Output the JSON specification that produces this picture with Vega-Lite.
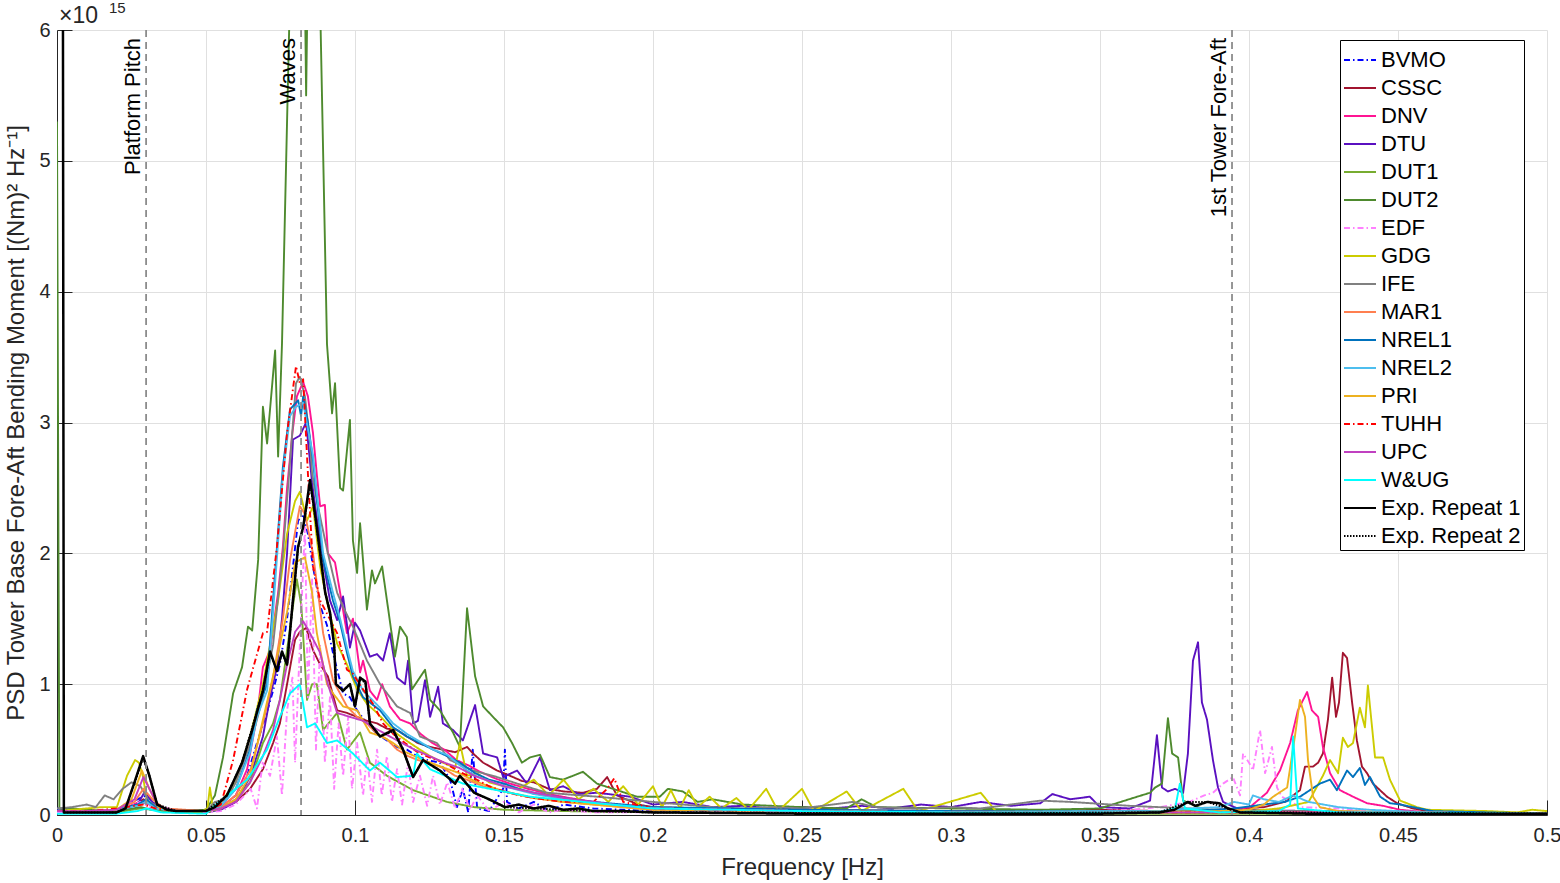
{
"$schema":"https://vega.github.io/schema/vega-lite/v6.json",
"width":1490,"height":785,
"autosize":{"type":"none"},
"padding":{"left":57,"top":30,"right":13,"bottom":68},
"background":"white",
"config":{"font":"Liberation Sans","view":{"stroke":null},
 "axis":{"labelFontSize":20,"titleFontSize":24,"titleFontWeight":"normal","labelColor":"#262626","titleColor":"#262626","domainColor":"#262626","tickColor":"#262626","gridColor":"#e0e0e0","tickSize":-15,"domainWidth":1,"tickWidth":1}},
"data":{"values":[
{"s":"BVMO","f":0,"y":0.05},{"s":"BVMO","f":0.01,"y":0.03},{"s":"BVMO","f":0.02,"y":0.04},{"s":"BVMO","f":0.027,"y":0.12},{"s":"BVMO","f":0.03,"y":0.15},{"s":"BVMO","f":0.034,"y":0.06},{"s":"BVMO","f":0.04,"y":0.03},{"s":"BVMO","f":0.05,"y":0.02},{"s":"BVMO","f":0.055,"y":0.06},{"s":"BVMO","f":0.06,"y":0.15},{"s":"BVMO","f":0.0638,"y":0.3},{"s":"BVMO","f":0.0671,"y":0.55},{"s":"BVMO","f":0.07,"y":0.75},{"s":"BVMO","f":0.0725,"y":0.95},{"s":"BVMO","f":0.0748,"y":1.15},{"s":"BVMO","f":0.0772,"y":1.5},{"s":"BVMO","f":0.0792,"y":1.9},{"s":"BVMO","f":0.0809,"y":2.25},{"s":"BVMO","f":0.0826,"y":2.3},{"s":"BVMO","f":0.0842,"y":2.15},{"s":"BVMO","f":0.0859,"y":1.9},{"s":"BVMO","f":0.0883,"y":1.6},{"s":"BVMO","f":0.0906,"y":1.45},{"s":"BVMO","f":0.0926,"y":1.24},{"s":"BVMO","f":0.096,"y":0.93},{"s":"BVMO","f":0.0983,"y":0.9},{"s":"BVMO","f":0.1007,"y":0.8},{"s":"BVMO","f":0.104,"y":0.7},{"s":"BVMO","f":0.1074,"y":0.62},{"s":"BVMO","f":0.1107,"y":0.57},{"s":"BVMO","f":0.1141,"y":0.52},{"s":"BVMO","f":0.1174,"y":0.5},{"s":"BVMO","f":0.1208,"y":0.45},{"s":"BVMO","f":0.1242,"y":0.42},{"s":"BVMO","f":0.1285,"y":0.4},{"s":"BVMO","f":0.1319,"y":0.27},{"s":"BVMO","f":0.1342,"y":0.06},{"s":"BVMO","f":0.1362,"y":0.2},{"s":"BVMO","f":0.138,"y":0.02},{"s":"BVMO","f":0.1395,"y":0.5},{"s":"BVMO","f":0.141,"y":0.05},{"s":"BVMO","f":0.145,"y":0.03},{"s":"BVMO","f":0.1497,"y":0.2},{"s":"BVMO","f":0.1503,"y":0.5},{"s":"BVMO","f":0.151,"y":0.1},{"s":"BVMO","f":0.155,"y":0.05},{"s":"BVMO","f":0.16,"y":0.1},{"s":"BVMO","f":0.165,"y":0.03},{"s":"BVMO","f":0.17,"y":0.08},{"s":"BVMO","f":0.18,"y":0.05},{"s":"BVMO","f":0.19,"y":0.04},{"s":"BVMO","f":0.2,"y":0.03},{"s":"BVMO","f":0.25,"y":0.02},{"s":"BVMO","f":0.3,"y":0.02},{"s":"BVMO","f":0.35,"y":0.02},{"s":"BVMO","f":0.4,"y":0.02},{"s":"BVMO","f":0.45,"y":0.02},{"s":"BVMO","f":0.5,"y":0.01},
{"s":"CSSC","f":0,"y":0.03},{"s":"CSSC","f":0.01,"y":0.02},{"s":"CSSC","f":0.02,"y":0.03},{"s":"CSSC","f":0.026,"y":0.08},{"s":"CSSC","f":0.029,"y":0.12},{"s":"CSSC","f":0.033,"y":0.05},{"s":"CSSC","f":0.04,"y":0.02},{"s":"CSSC","f":0.05,"y":0.02},{"s":"CSSC","f":0.055,"y":0.05},{"s":"CSSC","f":0.06,"y":0.1},{"s":"CSSC","f":0.0648,"y":0.2},{"s":"CSSC","f":0.0691,"y":0.35},{"s":"CSSC","f":0.0725,"y":0.55},{"s":"CSSC","f":0.0748,"y":0.7},{"s":"CSSC","f":0.0772,"y":1.0},{"s":"CSSC","f":0.0799,"y":1.34},{"s":"CSSC","f":0.0815,"y":1.4},{"s":"CSSC","f":0.0836,"y":1.43},{"s":"CSSC","f":0.0859,"y":1.26},{"s":"CSSC","f":0.0883,"y":1.15},{"s":"CSSC","f":0.0909,"y":1.06},{"s":"CSSC","f":0.094,"y":0.8},{"s":"CSSC","f":0.0973,"y":0.78},{"s":"CSSC","f":0.1007,"y":0.75},{"s":"CSSC","f":0.104,"y":0.72},{"s":"CSSC","f":0.1074,"y":0.7},{"s":"CSSC","f":0.1107,"y":0.66},{"s":"CSSC","f":0.1141,"y":0.65},{"s":"CSSC","f":0.1174,"y":0.6},{"s":"CSSC","f":0.1211,"y":0.55},{"s":"CSSC","f":0.1252,"y":0.52},{"s":"CSSC","f":0.1295,"y":0.5},{"s":"CSSC","f":0.1336,"y":0.48},{"s":"CSSC","f":0.1376,"y":0.52},{"s":"CSSC","f":0.1396,"y":0.47},{"s":"CSSC","f":0.143,"y":0.4},{"s":"CSSC","f":0.1477,"y":0.34},{"s":"CSSC","f":0.152,"y":0.3},{"s":"CSSC","f":0.156,"y":0.26},{"s":"CSSC","f":0.16,"y":0.25},{"s":"CSSC","f":0.165,"y":0.2},{"s":"CSSC","f":0.17,"y":0.18},{"s":"CSSC","f":0.1765,"y":0.17},{"s":"CSSC","f":0.1812,"y":0.2},{"s":"CSSC","f":0.1846,"y":0.29},{"s":"CSSC","f":0.1879,"y":0.15},{"s":"CSSC","f":0.195,"y":0.08},{"s":"CSSC","f":0.2,"y":0.06},{"s":"CSSC","f":0.22,"y":0.05},{"s":"CSSC","f":0.25,"y":0.04},{"s":"CSSC","f":0.3,"y":0.03},{"s":"CSSC","f":0.33,"y":0.03},{"s":"CSSC","f":0.35,"y":0.04},{"s":"CSSC","f":0.37,"y":0.03},{"s":"CSSC","f":0.39,"y":0.04},{"s":"CSSC","f":0.405,"y":0.06},{"s":"CSSC","f":0.412,"y":0.1},{"s":"CSSC","f":0.4171,"y":0.19},{"s":"CSSC","f":0.4188,"y":0.37},{"s":"CSSC","f":0.4215,"y":0.37},{"s":"CSSC","f":0.4232,"y":0.4},{"s":"CSSC","f":0.4248,"y":0.47},{"s":"CSSC","f":0.4265,"y":0.73},{"s":"CSSC","f":0.4279,"y":1.05},{"s":"CSSC","f":0.4292,"y":0.75},{"s":"CSSC","f":0.4302,"y":0.86},{"s":"CSSC","f":0.4315,"y":1.24},{"s":"CSSC","f":0.4329,"y":1.2},{"s":"CSSC","f":0.4346,"y":0.86},{"s":"CSSC","f":0.4362,"y":0.57},{"s":"CSSC","f":0.4379,"y":0.37},{"s":"CSSC","f":0.4396,"y":0.32},{"s":"CSSC","f":0.4416,"y":0.24},{"s":"CSSC","f":0.4463,"y":0.14},{"s":"CSSC","f":0.4497,"y":0.09},{"s":"CSSC","f":0.455,"y":0.05},{"s":"CSSC","f":0.46,"y":0.03},{"s":"CSSC","f":0.48,"y":0.02},{"s":"CSSC","f":0.5,"y":0.01},
{"s":"DNV","f":0,"y":0.03},{"s":"DNV","f":0.01,"y":0.02},{"s":"DNV","f":0.02,"y":0.03},{"s":"DNV","f":0.028,"y":0.1},{"s":"DNV","f":0.031,"y":0.08},{"s":"DNV","f":0.036,"y":0.03},{"s":"DNV","f":0.05,"y":0.02},{"s":"DNV","f":0.055,"y":0.06},{"s":"DNV","f":0.06,"y":0.15},{"s":"DNV","f":0.0638,"y":0.35},{"s":"DNV","f":0.0671,"y":0.75},{"s":"DNV","f":0.0691,"y":1.13},{"s":"DNV","f":0.0715,"y":1.26},{"s":"DNV","f":0.0742,"y":1.7},{"s":"DNV","f":0.0758,"y":2.05},{"s":"DNV","f":0.0772,"y":2.5},{"s":"DNV","f":0.079,"y":2.92},{"s":"DNV","f":0.0805,"y":3.2},{"s":"DNV","f":0.0826,"y":3.31},{"s":"DNV","f":0.0842,"y":3.2},{"s":"DNV","f":0.0859,"y":2.92},{"s":"DNV","f":0.0872,"y":2.6},{"s":"DNV","f":0.0883,"y":2.36},{"s":"DNV","f":0.0899,"y":2.37},{"s":"DNV","f":0.0909,"y":2.0},{"s":"DNV","f":0.0933,"y":1.93},{"s":"DNV","f":0.095,"y":1.7},{"s":"DNV","f":0.0973,"y":1.39},{"s":"DNV","f":0.0993,"y":1.5},{"s":"DNV","f":0.1017,"y":1.09},{"s":"DNV","f":0.1027,"y":1.18},{"s":"DNV","f":0.105,"y":0.95},{"s":"DNV","f":0.1074,"y":0.88},{"s":"DNV","f":0.1091,"y":1.0},{"s":"DNV","f":0.1117,"y":0.83},{"s":"DNV","f":0.1151,"y":0.73},{"s":"DNV","f":0.1185,"y":0.7},{"s":"DNV","f":0.122,"y":0.62},{"s":"DNV","f":0.126,"y":0.55},{"s":"DNV","f":0.13,"y":0.5},{"s":"DNV","f":0.134,"y":0.42},{"s":"DNV","f":0.138,"y":0.38},{"s":"DNV","f":0.142,"y":0.33},{"s":"DNV","f":0.147,"y":0.28},{"s":"DNV","f":0.152,"y":0.24},{"s":"DNV","f":0.158,"y":0.2},{"s":"DNV","f":0.165,"y":0.16},{"s":"DNV","f":0.172,"y":0.13},{"s":"DNV","f":0.18,"y":0.1},{"s":"DNV","f":0.19,"y":0.07},{"s":"DNV","f":0.2,"y":0.05},{"s":"DNV","f":0.25,"y":0.03},{"s":"DNV","f":0.3,"y":0.02},{"s":"DNV","f":0.35,"y":0.02},{"s":"DNV","f":0.39,"y":0.03},{"s":"DNV","f":0.4003,"y":0.06},{"s":"DNV","f":0.406,"y":0.17},{"s":"DNV","f":0.4104,"y":0.34},{"s":"DNV","f":0.4138,"y":0.55},{"s":"DNV","f":0.4164,"y":0.8},{"s":"DNV","f":0.4195,"y":0.94},{"s":"DNV","f":0.4211,"y":0.8},{"s":"DNV","f":0.4232,"y":0.75},{"s":"DNV","f":0.4248,"y":0.52},{"s":"DNV","f":0.4272,"y":0.32},{"s":"DNV","f":0.4305,"y":0.19},{"s":"DNV","f":0.4349,"y":0.14},{"s":"DNV","f":0.4396,"y":0.09},{"s":"DNV","f":0.445,"y":0.07},{"s":"DNV","f":0.4507,"y":0.04},{"s":"DNV","f":0.46,"y":0.02},{"s":"DNV","f":0.5,"y":0.01},
{"s":"DTU","f":0,"y":0.03},{"s":"DTU","f":0.01,"y":0.02},{"s":"DTU","f":0.02,"y":0.03},{"s":"DTU","f":0.027,"y":0.08},{"s":"DTU","f":0.0295,"y":0.18},{"s":"DTU","f":0.032,"y":0.1},{"s":"DTU","f":0.036,"y":0.03},{"s":"DTU","f":0.05,"y":0.02},{"s":"DTU","f":0.055,"y":0.04},{"s":"DTU","f":0.06,"y":0.1},{"s":"DTU","f":0.065,"y":0.3},{"s":"DTU","f":0.0691,"y":0.6},{"s":"DTU","f":0.0715,"y":0.9},{"s":"DTU","f":0.0738,"y":1.13},{"s":"DTU","f":0.0755,"y":1.5},{"s":"DTU","f":0.0772,"y":2.0},{"s":"DTU","f":0.0792,"y":2.87},{"s":"DTU","f":0.0815,"y":2.9},{"s":"DTU","f":0.0836,"y":3.0},{"s":"DTU","f":0.0856,"y":2.54},{"s":"DTU","f":0.0883,"y":2.08},{"s":"DTU","f":0.0916,"y":1.64},{"s":"DTU","f":0.094,"y":1.49},{"s":"DTU","f":0.096,"y":1.67},{"s":"DTU","f":0.0977,"y":1.39},{"s":"DTU","f":0.0983,"y":1.28},{"s":"DTU","f":0.1,"y":1.47},{"s":"DTU","f":0.1017,"y":1.41},{"s":"DTU","f":0.105,"y":1.21},{"s":"DTU","f":0.1074,"y":1.23},{"s":"DTU","f":0.1094,"y":1.18},{"s":"DTU","f":0.1117,"y":1.39},{"s":"DTU","f":0.1141,"y":1.05},{"s":"DTU","f":0.1168,"y":1.0},{"s":"DTU","f":0.1178,"y":1.18},{"s":"DTU","f":0.1195,"y":0.7},{"s":"DTU","f":0.1211,"y":0.72},{"s":"DTU","f":0.1235,"y":1.03},{"s":"DTU","f":0.1252,"y":0.75},{"s":"DTU","f":0.1279,"y":0.98},{"s":"DTU","f":0.1295,"y":0.7},{"s":"DTU","f":0.1329,"y":0.65},{"s":"DTU","f":0.1362,"y":0.57},{"s":"DTU","f":0.1403,"y":0.84},{"s":"DTU","f":0.143,"y":0.47},{"s":"DTU","f":0.1477,"y":0.44},{"s":"DTU","f":0.1497,"y":0.29},{"s":"DTU","f":0.1544,"y":0.34},{"s":"DTU","f":0.1577,"y":0.24},{"s":"DTU","f":0.1621,"y":0.44},{"s":"DTU","f":0.1654,"y":0.19},{"s":"DTU","f":0.1698,"y":0.22},{"s":"DTU","f":0.175,"y":0.16},{"s":"DTU","f":0.1812,"y":0.17},{"s":"DTU","f":0.1923,"y":0.14},{"s":"DTU","f":0.2,"y":0.08},{"s":"DTU","f":0.21,"y":0.1},{"s":"DTU","f":0.22,"y":0.06},{"s":"DTU","f":0.23,"y":0.07},{"s":"DTU","f":0.24,"y":0.05},{"s":"DTU","f":0.25,"y":0.06},{"s":"DTU","f":0.26,"y":0.05},{"s":"DTU","f":0.27,"y":0.07},{"s":"DTU","f":0.28,"y":0.05},{"s":"DTU","f":0.29,"y":0.08},{"s":"DTU","f":0.3,"y":0.06},{"s":"DTU","f":0.31,"y":0.1},{"s":"DTU","f":0.32,"y":0.07},{"s":"DTU","f":0.33,"y":0.09},{"s":"DTU","f":0.334,"y":0.16},{"s":"DTU","f":0.34,"y":0.12},{"s":"DTU","f":0.3466,"y":0.14},{"s":"DTU","f":0.35,"y":0.06},{"s":"DTU","f":0.36,"y":0.05},{"s":"DTU","f":0.3668,"y":0.11},{"s":"DTU","f":0.3691,"y":0.61},{"s":"DTU","f":0.3708,"y":0.21},{"s":"DTU","f":0.3728,"y":0.18},{"s":"DTU","f":0.3752,"y":0.2},{"s":"DTU","f":0.3779,"y":0.17},{"s":"DTU","f":0.3795,"y":0.47},{"s":"DTU","f":0.3812,"y":1.18},{"s":"DTU","f":0.3829,"y":1.32},{"s":"DTU","f":0.3842,"y":0.86},{"s":"DTU","f":0.3859,"y":0.73},{"s":"DTU","f":0.3879,"y":0.42},{"s":"DTU","f":0.3896,"y":0.21},{"s":"DTU","f":0.3913,"y":0.1},{"s":"DTU","f":0.397,"y":0.04},{"s":"DTU","f":0.42,"y":0.03},{"s":"DTU","f":0.45,"y":0.02},{"s":"DTU","f":0.5,"y":0.01},
{"s":"DUT1","f":0,"y":0.02},{"s":"DUT1","f":0.01,"y":0.02},{"s":"DUT1","f":0.02,"y":0.02},{"s":"DUT1","f":0.028,"y":0.05},{"s":"DUT1","f":0.032,"y":0.04},{"s":"DUT1","f":0.04,"y":0.02},{"s":"DUT1","f":0.05,"y":0.02},{"s":"DUT1","f":0.055,"y":0.05},{"s":"DUT1","f":0.06,"y":0.12},{"s":"DUT1","f":0.0648,"y":0.25},{"s":"DUT1","f":0.0691,"y":0.55},{"s":"DUT1","f":0.0725,"y":0.7},{"s":"DUT1","f":0.0748,"y":0.88},{"s":"DUT1","f":0.0772,"y":1.26},{"s":"DUT1","f":0.0792,"y":1.6},{"s":"DUT1","f":0.0805,"y":1.8},{"s":"DUT1","f":0.082,"y":1.6},{"s":"DUT1","f":0.0839,"y":0.88},{"s":"DUT1","f":0.0856,"y":1.0},{"s":"DUT1","f":0.0872,"y":1.0},{"s":"DUT1","f":0.0893,"y":0.65},{"s":"DUT1","f":0.094,"y":0.78},{"s":"DUT1","f":0.0973,"y":0.5},{"s":"DUT1","f":0.1017,"y":0.63},{"s":"DUT1","f":0.105,"y":0.4},{"s":"DUT1","f":0.1107,"y":0.3},{"s":"DUT1","f":0.1195,"y":0.19},{"s":"DUT1","f":0.1309,"y":0.1},{"s":"DUT1","f":0.14,"y":0.06},{"s":"DUT1","f":0.15,"y":0.04},{"s":"DUT1","f":0.17,"y":0.03},{"s":"DUT1","f":0.2,"y":0.02},{"s":"DUT1","f":0.25,"y":0.015},{"s":"DUT1","f":0.3,"y":0.01},{"s":"DUT1","f":0.4,"y":0.01},{"s":"DUT1","f":0.5,"y":0.01},
{"s":"DUT2","f":0,"y":5.3},{"s":"DUT2","f":0.0008,"y":0.05},{"s":"DUT2","f":0.005,"y":0.05},{"s":"DUT2","f":0.01,"y":0.04},{"s":"DUT2","f":0.02,"y":0.03},{"s":"DUT2","f":0.028,"y":0.06},{"s":"DUT2","f":0.032,"y":0.04},{"s":"DUT2","f":0.04,"y":0.03},{"s":"DUT2","f":0.05,"y":0.04},{"s":"DUT2","f":0.053,"y":0.15},{"s":"DUT2","f":0.0557,"y":0.44},{"s":"DUT2","f":0.0591,"y":0.93},{"s":"DUT2","f":0.0621,"y":1.13},{"s":"DUT2","f":0.0641,"y":1.44},{"s":"DUT2","f":0.0655,"y":1.41},{"s":"DUT2","f":0.0675,"y":1.95},{"s":"DUT2","f":0.0691,"y":3.12},{"s":"DUT2","f":0.0705,"y":2.84},{"s":"DUT2","f":0.0732,"y":3.55},{"s":"DUT2","f":0.0742,"y":2.74},{"s":"DUT2","f":0.0755,"y":3.6},{"s":"DUT2","f":0.0782,"y":6.3},{"s":"DUT2","f":0.08,"y":7.5},{"s":"DUT2","f":0.0832,"y":6.3},{"s":"DUT2","f":0.0836,"y":5.5},{"s":"DUT2","f":0.0842,"y":6.5},{"s":"DUT2","f":0.086,"y":7.0},{"s":"DUT2","f":0.0883,"y":6.2},{"s":"DUT2","f":0.0906,"y":3.6},{"s":"DUT2","f":0.0923,"y":3.07},{"s":"DUT2","f":0.0933,"y":3.3},{"s":"DUT2","f":0.095,"y":2.5},{"s":"DUT2","f":0.096,"y":2.48},{"s":"DUT2","f":0.0983,"y":3.02},{"s":"DUT2","f":0.0993,"y":2.1},{"s":"DUT2","f":0.1007,"y":1.85},{"s":"DUT2","f":0.1017,"y":2.23},{"s":"DUT2","f":0.104,"y":1.57},{"s":"DUT2","f":0.1057,"y":1.87},{"s":"DUT2","f":0.1067,"y":1.77},{"s":"DUT2","f":0.1091,"y":1.9},{"s":"DUT2","f":0.1134,"y":1.21},{"s":"DUT2","f":0.1151,"y":1.44},{"s":"DUT2","f":0.1174,"y":1.36},{"s":"DUT2","f":0.1191,"y":0.96},{"s":"DUT2","f":0.1235,"y":1.11},{"s":"DUT2","f":0.1252,"y":0.88},{"s":"DUT2","f":0.1285,"y":0.8},{"s":"DUT2","f":0.1329,"y":0.63},{"s":"DUT2","f":0.1352,"y":0.52},{"s":"DUT2","f":0.1376,"y":1.58},{"s":"DUT2","f":0.1403,"y":1.06},{"s":"DUT2","f":0.143,"y":0.83},{"s":"DUT2","f":0.1463,"y":0.75},{"s":"DUT2","f":0.1497,"y":0.67},{"s":"DUT2","f":0.1527,"y":0.55},{"s":"DUT2","f":0.156,"y":0.4},{"s":"DUT2","f":0.1587,"y":0.44},{"s":"DUT2","f":0.1621,"y":0.46},{"s":"DUT2","f":0.1654,"y":0.29},{"s":"DUT2","f":0.1698,"y":0.27},{"s":"DUT2","f":0.1765,"y":0.33},{"s":"DUT2","f":0.1812,"y":0.24},{"s":"DUT2","f":0.1879,"y":0.19},{"s":"DUT2","f":0.1946,"y":0.14},{"s":"DUT2","f":0.2023,"y":0.14},{"s":"DUT2","f":0.205,"y":0.2},{"s":"DUT2","f":0.21,"y":0.18},{"s":"DUT2","f":0.215,"y":0.1},{"s":"DUT2","f":0.22,"y":0.12},{"s":"DUT2","f":0.23,"y":0.08},{"s":"DUT2","f":0.24,"y":0.07},{"s":"DUT2","f":0.25,"y":0.06},{"s":"DUT2","f":0.265,"y":0.05},{"s":"DUT2","f":0.27,"y":0.12},{"s":"DUT2","f":0.275,"y":0.06},{"s":"DUT2","f":0.3,"y":0.05},{"s":"DUT2","f":0.33,"y":0.04},{"s":"DUT2","f":0.35,"y":0.05},{"s":"DUT2","f":0.3611,"y":0.13},{"s":"DUT2","f":0.3668,"y":0.17},{"s":"DUT2","f":0.3685,"y":0.21},{"s":"DUT2","f":0.3708,"y":0.24},{"s":"DUT2","f":0.3728,"y":0.74},{"s":"DUT2","f":0.3742,"y":0.47},{"s":"DUT2","f":0.3762,"y":0.44},{"s":"DUT2","f":0.3779,"y":0.11},{"s":"DUT2","f":0.385,"y":0.04},{"s":"DUT2","f":0.4,"y":0.03},{"s":"DUT2","f":0.45,"y":0.02},{"s":"DUT2","f":0.5,"y":0.01},
{"s":"EDF","f":0,"y":0.02},{"s":"EDF","f":0.01,"y":0.03},{"s":"EDF","f":0.02,"y":0.04},{"s":"EDF","f":0.028,"y":0.1},{"s":"EDF","f":0.031,"y":0.06},{"s":"EDF","f":0.04,"y":0.03},{"s":"EDF","f":0.05,"y":0.02},{"s":"EDF","f":0.055,"y":0.03},{"s":"EDF","f":0.06,"y":0.08},{"s":"EDF","f":0.065,"y":0.2},{"s":"EDF","f":0.0671,"y":0.05},{"s":"EDF","f":0.069,"y":0.4},{"s":"EDF","f":0.0715,"y":0.3},{"s":"EDF","f":0.0738,"y":0.6},{"s":"EDF","f":0.0755,"y":0.15},{"s":"EDF","f":0.0772,"y":0.8},{"s":"EDF","f":0.079,"y":1.05},{"s":"EDF","f":0.0799,"y":0.4},{"s":"EDF","f":0.0815,"y":1.3},{"s":"EDF","f":0.0832,"y":2.2},{"s":"EDF","f":0.0842,"y":0.9},{"s":"EDF","f":0.0856,"y":1.8},{"s":"EDF","f":0.0869,"y":0.5},{"s":"EDF","f":0.0883,"y":1.3},{"s":"EDF","f":0.0899,"y":0.4},{"s":"EDF","f":0.0916,"y":0.9},{"s":"EDF","f":0.093,"y":0.2},{"s":"EDF","f":0.0945,"y":0.7},{"s":"EDF","f":0.096,"y":0.3},{"s":"EDF","f":0.0977,"y":0.75},{"s":"EDF","f":0.099,"y":0.2},{"s":"EDF","f":0.1007,"y":0.55},{"s":"EDF","f":0.1027,"y":0.15},{"s":"EDF","f":0.104,"y":0.45},{"s":"EDF","f":0.1057,"y":0.1},{"s":"EDF","f":0.1074,"y":0.5},{"s":"EDF","f":0.109,"y":0.15},{"s":"EDF","f":0.1107,"y":0.45},{"s":"EDF","f":0.1124,"y":0.1},{"s":"EDF","f":0.1141,"y":0.35},{"s":"EDF","f":0.1158,"y":0.08},{"s":"EDF","f":0.1178,"y":0.4},{"s":"EDF","f":0.1195,"y":0.1},{"s":"EDF","f":0.1218,"y":0.3},{"s":"EDF","f":0.1242,"y":0.07},{"s":"EDF","f":0.1262,"y":0.3},{"s":"EDF","f":0.1285,"y":0.08},{"s":"EDF","f":0.131,"y":0.25},{"s":"EDF","f":0.1336,"y":0.05},{"s":"EDF","f":0.136,"y":0.2},{"s":"EDF","f":0.1386,"y":0.04},{"s":"EDF","f":0.141,"y":0.15},{"s":"EDF","f":0.145,"y":0.03},{"s":"EDF","f":0.15,"y":0.1},{"s":"EDF","f":0.155,"y":0.02},{"s":"EDF","f":0.16,"y":0.08},{"s":"EDF","f":0.165,"y":0.02},{"s":"EDF","f":0.17,"y":0.04},{"s":"EDF","f":0.18,"y":0.02},{"s":"EDF","f":0.2,"y":0.02},{"s":"EDF","f":0.25,"y":0.02},{"s":"EDF","f":0.3,"y":0.02},{"s":"EDF","f":0.35,"y":0.03},{"s":"EDF","f":0.36,"y":0.04},{"s":"EDF","f":0.37,"y":0.06},{"s":"EDF","f":0.38,"y":0.1},{"s":"EDF","f":0.385,"y":0.15},{"s":"EDF","f":0.3879,"y":0.17},{"s":"EDF","f":0.3913,"y":0.24},{"s":"EDF","f":0.3946,"y":0.29},{"s":"EDF","f":0.397,"y":0.15},{"s":"EDF","f":0.398,"y":0.47},{"s":"EDF","f":0.4,"y":0.4},{"s":"EDF","f":0.4013,"y":0.34},{"s":"EDF","f":0.4037,"y":0.65},{"s":"EDF","f":0.4054,"y":0.32},{"s":"EDF","f":0.4077,"y":0.52},{"s":"EDF","f":0.4094,"y":0.21},{"s":"EDF","f":0.411,"y":0.14},{"s":"EDF","f":0.4171,"y":0.06},{"s":"EDF","f":0.43,"y":0.05},{"s":"EDF","f":0.44,"y":0.03},{"s":"EDF","f":0.46,"y":0.02},{"s":"EDF","f":0.5,"y":0.01},
{"s":"GDG","f":0,"y":0.03},{"s":"GDG","f":0.005,"y":0.04},{"s":"GDG","f":0.01,"y":0.05},{"s":"GDG","f":0.015,"y":0.06},{"s":"GDG","f":0.0201,"y":0.06},{"s":"GDG","f":0.0235,"y":0.3},{"s":"GDG","f":0.0262,"y":0.42},{"s":"GDG","f":0.0275,"y":0.4},{"s":"GDG","f":0.0289,"y":0.29},{"s":"GDG","f":0.0302,"y":0.1},{"s":"GDG","f":0.034,"y":0.05},{"s":"GDG","f":0.04,"y":0.03},{"s":"GDG","f":0.048,"y":0.02},{"s":"GDG","f":0.0505,"y":0.05},{"s":"GDG","f":0.0513,"y":0.21},{"s":"GDG","f":0.0523,"y":0.05},{"s":"GDG","f":0.055,"y":0.1},{"s":"GDG","f":0.06,"y":0.25},{"s":"GDG","f":0.0648,"y":0.6},{"s":"GDG","f":0.0691,"y":1.0},{"s":"GDG","f":0.0715,"y":1.3},{"s":"GDG","f":0.0742,"y":1.64},{"s":"GDG","f":0.0772,"y":2.15},{"s":"GDG","f":0.0799,"y":2.4},{"s":"GDG","f":0.0815,"y":2.47},{"s":"GDG","f":0.0839,"y":2.25},{"s":"GDG","f":0.0859,"y":2.36},{"s":"GDG","f":0.0883,"y":1.9},{"s":"GDG","f":0.0909,"y":1.6},{"s":"GDG","f":0.094,"y":1.31},{"s":"GDG","f":0.0973,"y":1.15},{"s":"GDG","f":0.1007,"y":0.96},{"s":"GDG","f":0.104,"y":0.85},{"s":"GDG","f":0.1074,"y":0.78},{"s":"GDG","f":0.1107,"y":0.7},{"s":"GDG","f":0.1141,"y":0.62},{"s":"GDG","f":0.1178,"y":0.56},{"s":"GDG","f":0.1218,"y":0.5},{"s":"GDG","f":0.1252,"y":0.45},{"s":"GDG","f":0.1295,"y":0.4},{"s":"GDG","f":0.1336,"y":0.36},{"s":"GDG","f":0.1352,"y":0.55},{"s":"GDG","f":0.1376,"y":0.3},{"s":"GDG","f":0.141,"y":0.32},{"s":"GDG","f":0.145,"y":0.25},{"s":"GDG","f":0.15,"y":0.22},{"s":"GDG","f":0.155,"y":0.2},{"s":"GDG","f":0.16,"y":0.27},{"s":"GDG","f":0.165,"y":0.15},{"s":"GDG","f":0.17,"y":0.27},{"s":"GDG","f":0.175,"y":0.12},{"s":"GDG","f":0.18,"y":0.2},{"s":"GDG","f":0.185,"y":0.1},{"s":"GDG","f":0.19,"y":0.22},{"s":"GDG","f":0.195,"y":0.08},{"s":"GDG","f":0.2,"y":0.22},{"s":"GDG","f":0.203,"y":0.06},{"s":"GDG","f":0.206,"y":0.19},{"s":"GDG","f":0.209,"y":0.05},{"s":"GDG","f":0.212,"y":0.19},{"s":"GDG","f":0.215,"y":0.06},{"s":"GDG","f":0.219,"y":0.14},{"s":"GDG","f":0.223,"y":0.05},{"s":"GDG","f":0.228,"y":0.13},{"s":"GDG","f":0.232,"y":0.04},{"s":"GDG","f":0.238,"y":0.2},{"s":"GDG","f":0.242,"y":0.03},{"s":"GDG","f":0.25,"y":0.2},{"s":"GDG","f":0.254,"y":0.03},{"s":"GDG","f":0.265,"y":0.18},{"s":"GDG","f":0.27,"y":0.03},{"s":"GDG","f":0.284,"y":0.2},{"s":"GDG","f":0.289,"y":0.03},{"s":"GDG","f":0.31,"y":0.17},{"s":"GDG","f":0.315,"y":0.03},{"s":"GDG","f":0.35,"y":0.03},{"s":"GDG","f":0.4,"y":0.03},{"s":"GDG","f":0.41,"y":0.05},{"s":"GDG","f":0.42,"y":0.1},{"s":"GDG","f":0.4248,"y":0.3},{"s":"GDG","f":0.4272,"y":0.42},{"s":"GDG","f":0.4299,"y":0.32},{"s":"GDG","f":0.4315,"y":0.59},{"s":"GDG","f":0.4332,"y":0.52},{"s":"GDG","f":0.4349,"y":0.55},{"s":"GDG","f":0.4372,"y":0.82},{"s":"GDG","f":0.4389,"y":0.67},{"s":"GDG","f":0.4399,"y":0.99},{"s":"GDG","f":0.4423,"y":0.44},{"s":"GDG","f":0.445,"y":0.44},{"s":"GDG","f":0.4473,"y":0.27},{"s":"GDG","f":0.4507,"y":0.11},{"s":"GDG","f":0.4564,"y":0.06},{"s":"GDG","f":0.46,"y":0.04},{"s":"GDG","f":0.48,"y":0.03},{"s":"GDG","f":0.49,"y":0.02},{"s":"GDG","f":0.495,"y":0.04},{"s":"GDG","f":0.5,"y":0.03},
{"s":"IFE","f":0,"y":0.05},{"s":"IFE","f":0.005,"y":0.06},{"s":"IFE","f":0.01,"y":0.08},{"s":"IFE","f":0.013,"y":0.06},{"s":"IFE","f":0.016,"y":0.15},{"s":"IFE","f":0.019,"y":0.12},{"s":"IFE","f":0.022,"y":0.2},{"s":"IFE","f":0.025,"y":0.25},{"s":"IFE","f":0.028,"y":0.22},{"s":"IFE","f":0.031,"y":0.1},{"s":"IFE","f":0.035,"y":0.05},{"s":"IFE","f":0.04,"y":0.04},{"s":"IFE","f":0.05,"y":0.03},{"s":"IFE","f":0.053,"y":0.1},{"s":"IFE","f":0.057,"y":0.12},{"s":"IFE","f":0.06,"y":0.25},{"s":"IFE","f":0.065,"y":0.55},{"s":"IFE","f":0.0691,"y":0.9},{"s":"IFE","f":0.0725,"y":1.3},{"s":"IFE","f":0.0758,"y":2.0},{"s":"IFE","f":0.0782,"y":2.7},{"s":"IFE","f":0.0802,"y":3.3},{"s":"IFE","f":0.0815,"y":3.35},{"s":"IFE","f":0.0832,"y":3.2},{"s":"IFE","f":0.0849,"y":2.85},{"s":"IFE","f":0.0856,"y":2.61},{"s":"IFE","f":0.0872,"y":2.4},{"s":"IFE","f":0.0906,"y":2.03},{"s":"IFE","f":0.094,"y":1.7},{"s":"IFE","f":0.096,"y":1.59},{"s":"IFE","f":0.0993,"y":1.44},{"s":"IFE","f":0.104,"y":1.18},{"s":"IFE","f":0.1084,"y":1.0},{"s":"IFE","f":0.1141,"y":0.83},{"s":"IFE","f":0.1185,"y":0.78},{"s":"IFE","f":0.1218,"y":0.6},{"s":"IFE","f":0.1275,"y":0.55},{"s":"IFE","f":0.1319,"y":0.42},{"s":"IFE","f":0.1396,"y":0.34},{"s":"IFE","f":0.1477,"y":0.29},{"s":"IFE","f":0.1544,"y":0.24},{"s":"IFE","f":0.1644,"y":0.17},{"s":"IFE","f":0.1812,"y":0.14},{"s":"IFE","f":0.2,"y":0.1},{"s":"IFE","f":0.21,"y":0.08},{"s":"IFE","f":0.22,"y":0.06},{"s":"IFE","f":0.23,"y":0.05},{"s":"IFE","f":0.24,"y":0.06},{"s":"IFE","f":0.25,"y":0.05},{"s":"IFE","f":0.267,"y":0.1},{"s":"IFE","f":0.275,"y":0.06},{"s":"IFE","f":0.29,"y":0.05},{"s":"IFE","f":0.3,"y":0.06},{"s":"IFE","f":0.31,"y":0.05},{"s":"IFE","f":0.33,"y":0.11},{"s":"IFE","f":0.34,"y":0.1},{"s":"IFE","f":0.347,"y":0.09},{"s":"IFE","f":0.36,"y":0.07},{"s":"IFE","f":0.37,"y":0.06},{"s":"IFE","f":0.38,"y":0.05},{"s":"IFE","f":0.39,"y":0.04},{"s":"IFE","f":0.4,"y":0.03},{"s":"IFE","f":0.42,"y":0.03},{"s":"IFE","f":0.45,"y":0.02},{"s":"IFE","f":0.5,"y":0.01},
{"s":"MAR1","f":0,"y":0.03},{"s":"MAR1","f":0.01,"y":0.03},{"s":"MAR1","f":0.02,"y":0.04},{"s":"MAR1","f":0.026,"y":0.1},{"s":"MAR1","f":0.029,"y":0.2},{"s":"MAR1","f":0.032,"y":0.12},{"s":"MAR1","f":0.036,"y":0.05},{"s":"MAR1","f":0.05,"y":0.03},{"s":"MAR1","f":0.055,"y":0.06},{"s":"MAR1","f":0.06,"y":0.15},{"s":"MAR1","f":0.065,"y":0.35},{"s":"MAR1","f":0.0691,"y":0.7},{"s":"MAR1","f":0.0725,"y":1.05},{"s":"MAR1","f":0.0758,"y":1.5},{"s":"MAR1","f":0.0782,"y":1.95},{"s":"MAR1","f":0.0802,"y":2.2},{"s":"MAR1","f":0.0815,"y":2.36},{"s":"MAR1","f":0.0832,"y":2.3},{"s":"MAR1","f":0.0859,"y":2.0},{"s":"MAR1","f":0.0876,"y":1.7},{"s":"MAR1","f":0.0893,"y":1.39},{"s":"MAR1","f":0.0926,"y":1.03},{"s":"MAR1","f":0.0973,"y":0.83},{"s":"MAR1","f":0.1007,"y":0.75},{"s":"MAR1","f":0.104,"y":0.7},{"s":"MAR1","f":0.1074,"y":0.62},{"s":"MAR1","f":0.1107,"y":0.58},{"s":"MAR1","f":0.1141,"y":0.5},{"s":"MAR1","f":0.1178,"y":0.45},{"s":"MAR1","f":0.1211,"y":0.42},{"s":"MAR1","f":0.1252,"y":0.4},{"s":"MAR1","f":0.1295,"y":0.36},{"s":"MAR1","f":0.1336,"y":0.3},{"s":"MAR1","f":0.1376,"y":0.27},{"s":"MAR1","f":0.143,"y":0.22},{"s":"MAR1","f":0.15,"y":0.18},{"s":"MAR1","f":0.16,"y":0.13},{"s":"MAR1","f":0.17,"y":0.1},{"s":"MAR1","f":0.18,"y":0.08},{"s":"MAR1","f":0.19,"y":0.06},{"s":"MAR1","f":0.2,"y":0.04},{"s":"MAR1","f":0.25,"y":0.03},{"s":"MAR1","f":0.3,"y":0.02},{"s":"MAR1","f":0.35,"y":0.02},{"s":"MAR1","f":0.4,"y":0.02},{"s":"MAR1","f":0.45,"y":0.02},{"s":"MAR1","f":0.5,"y":0.01},
{"s":"NREL1","f":0,"y":0.03},{"s":"NREL1","f":0.01,"y":0.03},{"s":"NREL1","f":0.02,"y":0.04},{"s":"NREL1","f":0.027,"y":0.08},{"s":"NREL1","f":0.03,"y":0.12},{"s":"NREL1","f":0.033,"y":0.06},{"s":"NREL1","f":0.04,"y":0.03},{"s":"NREL1","f":0.05,"y":0.03},{"s":"NREL1","f":0.055,"y":0.07},{"s":"NREL1","f":0.06,"y":0.2},{"s":"NREL1","f":0.0648,"y":0.5},{"s":"NREL1","f":0.0671,"y":0.8},{"s":"NREL1","f":0.0705,"y":1.0},{"s":"NREL1","f":0.0725,"y":1.64},{"s":"NREL1","f":0.0758,"y":2.66},{"s":"NREL1","f":0.0782,"y":3.1},{"s":"NREL1","f":0.0809,"y":3.17},{"s":"NREL1","f":0.0819,"y":3.05},{"s":"NREL1","f":0.0826,"y":3.2},{"s":"NREL1","f":0.0842,"y":3.0},{"s":"NREL1","f":0.0859,"y":2.71},{"s":"NREL1","f":0.0893,"y":1.95},{"s":"NREL1","f":0.0926,"y":1.64},{"s":"NREL1","f":0.095,"y":1.47},{"s":"NREL1","f":0.0973,"y":1.24},{"s":"NREL1","f":0.0993,"y":1.06},{"s":"NREL1","f":0.1027,"y":0.9},{"s":"NREL1","f":0.1084,"y":0.8},{"s":"NREL1","f":0.1128,"y":0.67},{"s":"NREL1","f":0.1174,"y":0.6},{"s":"NREL1","f":0.1218,"y":0.55},{"s":"NREL1","f":0.1262,"y":0.5},{"s":"NREL1","f":0.1309,"y":0.45},{"s":"NREL1","f":0.1352,"y":0.4},{"s":"NREL1","f":0.1403,"y":0.32},{"s":"NREL1","f":0.145,"y":0.27},{"s":"NREL1","f":0.15,"y":0.24},{"s":"NREL1","f":0.155,"y":0.2},{"s":"NREL1","f":0.16,"y":0.17},{"s":"NREL1","f":0.17,"y":0.13},{"s":"NREL1","f":0.18,"y":0.1},{"s":"NREL1","f":0.19,"y":0.08},{"s":"NREL1","f":0.2,"y":0.06},{"s":"NREL1","f":0.25,"y":0.04},{"s":"NREL1","f":0.3,"y":0.03},{"s":"NREL1","f":0.35,"y":0.03},{"s":"NREL1","f":0.38,"y":0.03},{"s":"NREL1","f":0.395,"y":0.05},{"s":"NREL1","f":0.405,"y":0.08},{"s":"NREL1","f":0.412,"y":0.1},{"s":"NREL1","f":0.4171,"y":0.14},{"s":"NREL1","f":0.4238,"y":0.24},{"s":"NREL1","f":0.4272,"y":0.27},{"s":"NREL1","f":0.4295,"y":0.19},{"s":"NREL1","f":0.4329,"y":0.34},{"s":"NREL1","f":0.4349,"y":0.29},{"s":"NREL1","f":0.4372,"y":0.36},{"s":"NREL1","f":0.4389,"y":0.23},{"s":"NREL1","f":0.4406,"y":0.29},{"s":"NREL1","f":0.444,"y":0.14},{"s":"NREL1","f":0.4473,"y":0.09},{"s":"NREL1","f":0.4507,"y":0.08},{"s":"NREL1","f":0.4617,"y":0.03},{"s":"NREL1","f":0.48,"y":0.02},{"s":"NREL1","f":0.5,"y":0.01},
{"s":"NREL2","f":0,"y":0.03},{"s":"NREL2","f":0.01,"y":0.03},{"s":"NREL2","f":0.02,"y":0.04},{"s":"NREL2","f":0.027,"y":0.07},{"s":"NREL2","f":0.03,"y":0.1},{"s":"NREL2","f":0.033,"y":0.05},{"s":"NREL2","f":0.04,"y":0.03},{"s":"NREL2","f":0.05,"y":0.03},{"s":"NREL2","f":0.055,"y":0.07},{"s":"NREL2","f":0.06,"y":0.2},{"s":"NREL2","f":0.0648,"y":0.48},{"s":"NREL2","f":0.0671,"y":0.75},{"s":"NREL2","f":0.0705,"y":0.95},{"s":"NREL2","f":0.0725,"y":1.55},{"s":"NREL2","f":0.0758,"y":2.6},{"s":"NREL2","f":0.0782,"y":3.05},{"s":"NREL2","f":0.0802,"y":3.12},{"s":"NREL2","f":0.0826,"y":3.15},{"s":"NREL2","f":0.0842,"y":2.95},{"s":"NREL2","f":0.0859,"y":2.75},{"s":"NREL2","f":0.0893,"y":2.0},{"s":"NREL2","f":0.0926,"y":1.7},{"s":"NREL2","f":0.095,"y":1.5},{"s":"NREL2","f":0.0973,"y":1.28},{"s":"NREL2","f":0.0993,"y":1.1},{"s":"NREL2","f":0.1027,"y":0.95},{"s":"NREL2","f":0.1084,"y":0.82},{"s":"NREL2","f":0.1128,"y":0.7},{"s":"NREL2","f":0.1174,"y":0.62},{"s":"NREL2","f":0.1218,"y":0.56},{"s":"NREL2","f":0.1262,"y":0.5},{"s":"NREL2","f":0.1309,"y":0.46},{"s":"NREL2","f":0.1352,"y":0.38},{"s":"NREL2","f":0.1403,"y":0.3},{"s":"NREL2","f":0.145,"y":0.26},{"s":"NREL2","f":0.15,"y":0.22},{"s":"NREL2","f":0.16,"y":0.16},{"s":"NREL2","f":0.17,"y":0.12},{"s":"NREL2","f":0.18,"y":0.09},{"s":"NREL2","f":0.19,"y":0.07},{"s":"NREL2","f":0.2,"y":0.05},{"s":"NREL2","f":0.25,"y":0.03},{"s":"NREL2","f":0.3,"y":0.02},{"s":"NREL2","f":0.35,"y":0.03},{"s":"NREL2","f":0.37,"y":0.03},{"s":"NREL2","f":0.38,"y":0.05},{"s":"NREL2","f":0.39,"y":0.06},{"s":"NREL2","f":0.395,"y":0.1},{"s":"NREL2","f":0.4,"y":0.08},{"s":"NREL2","f":0.4013,"y":0.15},{"s":"NREL2","f":0.405,"y":0.12},{"s":"NREL2","f":0.41,"y":0.1},{"s":"NREL2","f":0.4148,"y":0.15},{"s":"NREL2","f":0.42,"y":0.1},{"s":"NREL2","f":0.43,"y":0.06},{"s":"NREL2","f":0.44,"y":0.04},{"s":"NREL2","f":0.46,"y":0.02},{"s":"NREL2","f":0.5,"y":0.01},
{"s":"PRI","f":0,"y":0.03},{"s":"PRI","f":0.01,"y":0.03},{"s":"PRI","f":0.02,"y":0.04},{"s":"PRI","f":0.025,"y":0.12},{"s":"PRI","f":0.0285,"y":0.34},{"s":"PRI","f":0.031,"y":0.2},{"s":"PRI","f":0.034,"y":0.06},{"s":"PRI","f":0.04,"y":0.03},{"s":"PRI","f":0.05,"y":0.03},{"s":"PRI","f":0.055,"y":0.05},{"s":"PRI","f":0.06,"y":0.12},{"s":"PRI","f":0.0648,"y":0.3},{"s":"PRI","f":0.0681,"y":0.63},{"s":"PRI","f":0.0725,"y":1.06},{"s":"PRI","f":0.0772,"y":1.55},{"s":"PRI","f":0.0799,"y":1.93},{"s":"PRI","f":0.0832,"y":1.97},{"s":"PRI","f":0.0856,"y":1.7},{"s":"PRI","f":0.0872,"y":1.39},{"s":"PRI","f":0.0906,"y":1.0},{"s":"PRI","f":0.0926,"y":0.93},{"s":"PRI","f":0.096,"y":0.83},{"s":"PRI","f":0.1007,"y":0.8},{"s":"PRI","f":0.105,"y":0.63},{"s":"PRI","f":0.109,"y":0.6},{"s":"PRI","f":0.1128,"y":0.55},{"s":"PRI","f":0.117,"y":0.48},{"s":"PRI","f":0.121,"y":0.44},{"s":"PRI","f":0.1252,"y":0.4},{"s":"PRI","f":0.13,"y":0.36},{"s":"PRI","f":0.135,"y":0.32},{"s":"PRI","f":0.14,"y":0.26},{"s":"PRI","f":0.145,"y":0.22},{"s":"PRI","f":0.15,"y":0.18},{"s":"PRI","f":0.16,"y":0.13},{"s":"PRI","f":0.17,"y":0.1},{"s":"PRI","f":0.18,"y":0.08},{"s":"PRI","f":0.19,"y":0.06},{"s":"PRI","f":0.2,"y":0.04},{"s":"PRI","f":0.25,"y":0.03},{"s":"PRI","f":0.3,"y":0.02},{"s":"PRI","f":0.35,"y":0.02},{"s":"PRI","f":0.39,"y":0.03},{"s":"PRI","f":0.4,"y":0.04},{"s":"PRI","f":0.405,"y":0.08},{"s":"PRI","f":0.4081,"y":0.14},{"s":"PRI","f":0.4128,"y":0.21},{"s":"PRI","f":0.4154,"y":0.6},{"s":"PRI","f":0.4171,"y":0.88},{"s":"PRI","f":0.4188,"y":0.75},{"s":"PRI","f":0.4198,"y":0.42},{"s":"PRI","f":0.4215,"y":0.14},{"s":"PRI","f":0.4238,"y":0.06},{"s":"PRI","f":0.43,"y":0.03},{"s":"PRI","f":0.45,"y":0.02},{"s":"PRI","f":0.5,"y":0.01},
{"s":"TUHH","f":0,"y":0.03},{"s":"TUHH","f":0.01,"y":0.03},{"s":"TUHH","f":0.02,"y":0.05},{"s":"TUHH","f":0.026,"y":0.07},{"s":"TUHH","f":0.029,"y":0.08},{"s":"TUHH","f":0.033,"y":0.05},{"s":"TUHH","f":0.04,"y":0.03},{"s":"TUHH","f":0.05,"y":0.03},{"s":"TUHH","f":0.055,"y":0.08},{"s":"TUHH","f":0.0591,"y":0.42},{"s":"TUHH","f":0.0638,"y":0.96},{"s":"TUHH","f":0.0691,"y":1.39},{"s":"TUHH","f":0.0705,"y":1.4},{"s":"TUHH","f":0.0738,"y":2.05},{"s":"TUHH","f":0.0772,"y":2.92},{"s":"TUHH","f":0.0802,"y":3.43},{"s":"TUHH","f":0.0815,"y":3.3},{"s":"TUHH","f":0.0826,"y":3.33},{"s":"TUHH","f":0.0842,"y":2.61},{"s":"TUHH","f":0.0859,"y":1.9},{"s":"TUHH","f":0.0883,"y":1.64},{"s":"TUHH","f":0.094,"y":1.39},{"s":"TUHH","f":0.0973,"y":1.11},{"s":"TUHH","f":0.0993,"y":1.08},{"s":"TUHH","f":0.1027,"y":0.96},{"s":"TUHH","f":0.106,"y":0.85},{"s":"TUHH","f":0.1094,"y":0.7},{"s":"TUHH","f":0.1128,"y":0.62},{"s":"TUHH","f":0.1168,"y":0.55},{"s":"TUHH","f":0.121,"y":0.48},{"s":"TUHH","f":0.125,"y":0.44},{"s":"TUHH","f":0.13,"y":0.4},{"s":"TUHH","f":0.135,"y":0.33},{"s":"TUHH","f":0.14,"y":0.28},{"s":"TUHH","f":0.145,"y":0.22},{"s":"TUHH","f":0.15,"y":0.18},{"s":"TUHH","f":0.155,"y":0.15},{"s":"TUHH","f":0.16,"y":0.13},{"s":"TUHH","f":0.17,"y":0.1},{"s":"TUHH","f":0.18,"y":0.1},{"s":"TUHH","f":0.1846,"y":0.2},{"s":"TUHH","f":0.187,"y":0.28},{"s":"TUHH","f":0.19,"y":0.1},{"s":"TUHH","f":0.2,"y":0.05},{"s":"TUHH","f":0.25,"y":0.03},{"s":"TUHH","f":0.3,"y":0.02},{"s":"TUHH","f":0.35,"y":0.02},{"s":"TUHH","f":0.4,"y":0.02},{"s":"TUHH","f":0.45,"y":0.02},{"s":"TUHH","f":0.5,"y":0.01},
{"s":"UPC","f":0,"y":0.03},{"s":"UPC","f":0.01,"y":0.03},{"s":"UPC","f":0.02,"y":0.04},{"s":"UPC","f":0.026,"y":0.12},{"s":"UPC","f":0.029,"y":0.29},{"s":"UPC","f":0.031,"y":0.2},{"s":"UPC","f":0.034,"y":0.07},{"s":"UPC","f":0.04,"y":0.03},{"s":"UPC","f":0.05,"y":0.03},{"s":"UPC","f":0.055,"y":0.05},{"s":"UPC","f":0.06,"y":0.1},{"s":"UPC","f":0.0648,"y":0.25},{"s":"UPC","f":0.0691,"y":0.45},{"s":"UPC","f":0.0725,"y":0.65},{"s":"UPC","f":0.0748,"y":0.88},{"s":"UPC","f":0.0772,"y":1.15},{"s":"UPC","f":0.0799,"y":1.4},{"s":"UPC","f":0.0826,"y":1.48},{"s":"UPC","f":0.0842,"y":1.42},{"s":"UPC","f":0.0883,"y":1.24},{"s":"UPC","f":0.0909,"y":1.0},{"s":"UPC","f":0.094,"y":0.78},{"s":"UPC","f":0.0983,"y":0.75},{"s":"UPC","f":0.1027,"y":0.72},{"s":"UPC","f":0.107,"y":0.66},{"s":"UPC","f":0.1141,"y":0.57},{"s":"UPC","f":0.12,"y":0.5},{"s":"UPC","f":0.125,"y":0.45},{"s":"UPC","f":0.13,"y":0.4},{"s":"UPC","f":0.135,"y":0.36},{"s":"UPC","f":0.14,"y":0.3},{"s":"UPC","f":0.145,"y":0.26},{"s":"UPC","f":0.15,"y":0.22},{"s":"UPC","f":0.16,"y":0.17},{"s":"UPC","f":0.17,"y":0.13},{"s":"UPC","f":0.18,"y":0.1},{"s":"UPC","f":0.19,"y":0.07},{"s":"UPC","f":0.2,"y":0.05},{"s":"UPC","f":0.25,"y":0.03},{"s":"UPC","f":0.3,"y":0.02},{"s":"UPC","f":0.35,"y":0.02},{"s":"UPC","f":0.4,"y":0.02},{"s":"UPC","f":0.45,"y":0.02},{"s":"UPC","f":0.5,"y":0.01},
{"s":"W&UG","f":0,"y":0.01},{"s":"W&UG","f":0.01,"y":0.01},{"s":"W&UG","f":0.02,"y":0.01},{"s":"W&UG","f":0.027,"y":0.03},{"s":"W&UG","f":0.03,"y":0.05},{"s":"W&UG","f":0.035,"y":0.02},{"s":"W&UG","f":0.05,"y":0.01},{"s":"W&UG","f":0.0523,"y":0.06},{"s":"W&UG","f":0.0638,"y":0.27},{"s":"W&UG","f":0.0705,"y":0.5},{"s":"W&UG","f":0.0748,"y":0.75},{"s":"W&UG","f":0.0782,"y":0.93},{"s":"W&UG","f":0.0815,"y":1.0},{"s":"W&UG","f":0.0839,"y":0.67},{"s":"W&UG","f":0.0866,"y":0.7},{"s":"W&UG","f":0.0906,"y":0.55},{"s":"W&UG","f":0.094,"y":0.57},{"s":"W&UG","f":0.0993,"y":0.47},{"s":"W&UG","f":0.105,"y":0.34},{"s":"W&UG","f":0.1084,"y":0.4},{"s":"W&UG","f":0.1141,"y":0.29},{"s":"W&UG","f":0.1195,"y":0.3},{"s":"W&UG","f":0.1208,"y":0.47},{"s":"W&UG","f":0.1252,"y":0.35},{"s":"W&UG","f":0.1362,"y":0.24},{"s":"W&UG","f":0.143,"y":0.21},{"s":"W&UG","f":0.1587,"y":0.14},{"s":"W&UG","f":0.1812,"y":0.09},{"s":"W&UG","f":0.2,"y":0.05},{"s":"W&UG","f":0.25,"y":0.03},{"s":"W&UG","f":0.3,"y":0.02},{"s":"W&UG","f":0.35,"y":0.02},{"s":"W&UG","f":0.37,"y":0.02},{"s":"W&UG","f":0.3752,"y":0.05},{"s":"W&UG","f":0.3768,"y":0.24},{"s":"W&UG","f":0.3785,"y":0.05},{"s":"W&UG","f":0.39,"y":0.02},{"s":"W&UG","f":0.41,"y":0.03},{"s":"W&UG","f":0.4138,"y":0.08},{"s":"W&UG","f":0.4148,"y":0.6},{"s":"W&UG","f":0.4164,"y":0.05},{"s":"W&UG","f":0.43,"y":0.02},{"s":"W&UG","f":0.45,"y":0.02},{"s":"W&UG","f":0.5,"y":0.01},
{"s":"Exp. Repeat 2","f":0.0023,"y":0.02},{"s":"Exp. Repeat 2","f":0.02,"y":0.02},{"s":"Exp. Repeat 2","f":0.023,"y":0.05},{"s":"Exp. Repeat 2","f":0.026,"y":0.24},{"s":"Exp. Repeat 2","f":0.0289,"y":0.44},{"s":"Exp. Repeat 2","f":0.031,"y":0.3},{"s":"Exp. Repeat 2","f":0.0336,"y":0.08},{"s":"Exp. Repeat 2","f":0.04,"y":0.03},{"s":"Exp. Repeat 2","f":0.05,"y":0.03},{"s":"Exp. Repeat 2","f":0.057,"y":0.15},{"s":"Exp. Repeat 2","f":0.0621,"y":0.4},{"s":"Exp. Repeat 2","f":0.0691,"y":0.95},{"s":"Exp. Repeat 2","f":0.0715,"y":1.24},{"s":"Exp. Repeat 2","f":0.0738,"y":1.1},{"s":"Exp. Repeat 2","f":0.0755,"y":1.24},{"s":"Exp. Repeat 2","f":0.0772,"y":1.15},{"s":"Exp. Repeat 2","f":0.079,"y":1.6},{"s":"Exp. Repeat 2","f":0.0809,"y":2.04},{"s":"Exp. Repeat 2","f":0.0826,"y":2.2},{"s":"Exp. Repeat 2","f":0.0836,"y":2.34},{"s":"Exp. Repeat 2","f":0.0849,"y":2.54},{"s":"Exp. Repeat 2","f":0.0869,"y":2.24},{"s":"Exp. Repeat 2","f":0.0883,"y":2.0},{"s":"Exp. Repeat 2","f":0.09,"y":1.7},{"s":"Exp. Repeat 2","f":0.0916,"y":1.55},{"s":"Exp. Repeat 2","f":0.093,"y":1.3},{"s":"Exp. Repeat 2","f":0.0936,"y":1.0},{"s":"Exp. Repeat 2","f":0.096,"y":0.95},{"s":"Exp. Repeat 2","f":0.0983,"y":1.0},{"s":"Exp. Repeat 2","f":0.1,"y":0.83},{"s":"Exp. Repeat 2","f":0.1017,"y":1.04},{"s":"Exp. Repeat 2","f":0.1035,"y":1.01},{"s":"Exp. Repeat 2","f":0.105,"y":0.7},{"s":"Exp. Repeat 2","f":0.1084,"y":0.6},{"s":"Exp. Repeat 2","f":0.1128,"y":0.64},{"s":"Exp. Repeat 2","f":0.1161,"y":0.5},{"s":"Exp. Repeat 2","f":0.1195,"y":0.29},{"s":"Exp. Repeat 2","f":0.1228,"y":0.42},{"s":"Exp. Repeat 2","f":0.1285,"y":0.34},{"s":"Exp. Repeat 2","f":0.1336,"y":0.24},{"s":"Exp. Repeat 2","f":0.1352,"y":0.3},{"s":"Exp. Repeat 2","f":0.14,"y":0.17},{"s":"Exp. Repeat 2","f":0.145,"y":0.12},{"s":"Exp. Repeat 2","f":0.1503,"y":0.06},{"s":"Exp. Repeat 2","f":0.16,"y":0.05},{"s":"Exp. Repeat 2","f":0.18,"y":0.03},{"s":"Exp. Repeat 2","f":0.2,"y":0.02},{"s":"Exp. Repeat 2","f":0.3,"y":0.01},{"s":"Exp. Repeat 2","f":0.37,"y":0.02},{"s":"Exp. Repeat 2","f":0.3795,"y":0.1},{"s":"Exp. Repeat 2","f":0.386,"y":0.1},{"s":"Exp. Repeat 2","f":0.397,"y":0.02},{"s":"Exp. Repeat 2","f":0.5,"y":0.01},
{"s":"Exp. Repeat 1","f":0.0019,"y":8},{"s":"Exp. Repeat 1","f":0.0023,"y":0.02},{"s":"Exp. Repeat 1","f":0.005,"y":0.02},{"s":"Exp. Repeat 1","f":0.01,"y":0.02},{"s":"Exp. Repeat 1","f":0.015,"y":0.02},{"s":"Exp. Repeat 1","f":0.02,"y":0.02},{"s":"Exp. Repeat 1","f":0.023,"y":0.05},{"s":"Exp. Repeat 1","f":0.026,"y":0.25},{"s":"Exp. Repeat 1","f":0.0289,"y":0.45},{"s":"Exp. Repeat 1","f":0.031,"y":0.3},{"s":"Exp. Repeat 1","f":0.0336,"y":0.08},{"s":"Exp. Repeat 1","f":0.037,"y":0.04},{"s":"Exp. Repeat 1","f":0.04,"y":0.03},{"s":"Exp. Repeat 1","f":0.045,"y":0.03},{"s":"Exp. Repeat 1","f":0.05,"y":0.03},{"s":"Exp. Repeat 1","f":0.053,"y":0.06},{"s":"Exp. Repeat 1","f":0.057,"y":0.15},{"s":"Exp. Repeat 1","f":0.0591,"y":0.25},{"s":"Exp. Repeat 1","f":0.0621,"y":0.4},{"s":"Exp. Repeat 1","f":0.0655,"y":0.65},{"s":"Exp. Repeat 1","f":0.0691,"y":0.95},{"s":"Exp. Repeat 1","f":0.0715,"y":1.25},{"s":"Exp. Repeat 1","f":0.0738,"y":1.1},{"s":"Exp. Repeat 1","f":0.0755,"y":1.25},{"s":"Exp. Repeat 1","f":0.0772,"y":1.15},{"s":"Exp. Repeat 1","f":0.079,"y":1.6},{"s":"Exp. Repeat 1","f":0.0809,"y":2.05},{"s":"Exp. Repeat 1","f":0.0826,"y":2.2},{"s":"Exp. Repeat 1","f":0.0836,"y":2.35},{"s":"Exp. Repeat 1","f":0.0849,"y":2.56},{"s":"Exp. Repeat 1","f":0.0869,"y":2.25},{"s":"Exp. Repeat 1","f":0.0883,"y":2.0},{"s":"Exp. Repeat 1","f":0.09,"y":1.7},{"s":"Exp. Repeat 1","f":0.0916,"y":1.55},{"s":"Exp. Repeat 1","f":0.093,"y":1.3},{"s":"Exp. Repeat 1","f":0.0936,"y":1.0},{"s":"Exp. Repeat 1","f":0.096,"y":0.95},{"s":"Exp. Repeat 1","f":0.0983,"y":1.0},{"s":"Exp. Repeat 1","f":0.1,"y":0.83},{"s":"Exp. Repeat 1","f":0.1017,"y":1.05},{"s":"Exp. Repeat 1","f":0.1035,"y":1.02},{"s":"Exp. Repeat 1","f":0.105,"y":0.7},{"s":"Exp. Repeat 1","f":0.1084,"y":0.6},{"s":"Exp. Repeat 1","f":0.1128,"y":0.65},{"s":"Exp. Repeat 1","f":0.1161,"y":0.5},{"s":"Exp. Repeat 1","f":0.1195,"y":0.29},{"s":"Exp. Repeat 1","f":0.1228,"y":0.42},{"s":"Exp. Repeat 1","f":0.1285,"y":0.34},{"s":"Exp. Repeat 1","f":0.1336,"y":0.24},{"s":"Exp. Repeat 1","f":0.1352,"y":0.3},{"s":"Exp. Repeat 1","f":0.14,"y":0.17},{"s":"Exp. Repeat 1","f":0.145,"y":0.12},{"s":"Exp. Repeat 1","f":0.1503,"y":0.06},{"s":"Exp. Repeat 1","f":0.155,"y":0.08},{"s":"Exp. Repeat 1","f":0.16,"y":0.05},{"s":"Exp. Repeat 1","f":0.165,"y":0.07},{"s":"Exp. Repeat 1","f":0.17,"y":0.04},{"s":"Exp. Repeat 1","f":0.175,"y":0.05},{"s":"Exp. Repeat 1","f":0.18,"y":0.03},{"s":"Exp. Repeat 1","f":0.19,"y":0.03},{"s":"Exp. Repeat 1","f":0.2,"y":0.02},{"s":"Exp. Repeat 1","f":0.25,"y":0.01},{"s":"Exp. Repeat 1","f":0.3,"y":0.01},{"s":"Exp. Repeat 1","f":0.35,"y":0.01},{"s":"Exp. Repeat 1","f":0.37,"y":0.02},{"s":"Exp. Repeat 1","f":0.375,"y":0.04},{"s":"Exp. Repeat 1","f":0.3795,"y":0.1},{"s":"Exp. Repeat 1","f":0.382,"y":0.07},{"s":"Exp. Repeat 1","f":0.386,"y":0.1},{"s":"Exp. Repeat 1","f":0.39,"y":0.09},{"s":"Exp. Repeat 1","f":0.393,"y":0.05},{"s":"Exp. Repeat 1","f":0.397,"y":0.02},{"s":"Exp. Repeat 1","f":0.42,"y":0.01},{"s":"Exp. Repeat 1","f":0.45,"y":0.01},{"s":"Exp. Repeat 1","f":0.5,"y":0.01}
]},
"encoding":{
 "x":{"field":"f","type":"quantitative","scale":{"domain":[0,0.5],"nice":false},
  "axis":{"title":"Frequency [Hz]","values":[0,0.05,0.1,0.15,0.2,0.25,0.3,0.35,0.4,0.45,0.5],"format":".2~f","labelPadding":25,"titlePadding":10,"grid":true,"labelFlush":false}},
 "y":{"field":"y","type":"quantitative","scale":{"domain":[0,6],"nice":false},
  "axis":{"title":"PSD Tower Base Fore-Aft Bending Moment [(Nm)² Hz⁻¹]","values":[0,1,2,3,4,5,6],"labelPadding":22,"titlePadding":10,"grid":true}}
},
"layer":[
 {"transform":[{"filter":"datum.s !== 'Exp. Repeat 1'"}],
  "mark":{"type":"line","clip":true,"strokeJoin":"round"},
  "encoding":{
   "color":{"field":"s","type":"nominal","scale":{"domain":["BVMO","CSSC","DNV","DTU","DUT1","DUT2","EDF","GDG","IFE","MAR1","NREL1","NREL2","PRI","TUHH","UPC","W&UG","Exp. Repeat 1","Exp. Repeat 2"],"range":["#0000FF","#A2142F","#FF1493","#5A10C0","#77AC30","#4E8A2E","#FF80FF","#CCCC00","#808080","#FF7F50","#0072BD","#4DBEEE","#EDB120","#FF0000","#C040C0","#00FFFF","#000000","#000000"]},
    "legend":{"title":null,"orient":"none","legendX":1283,"legendY":10,"labelFontSize":22,"labelColor":"#000000","symbolType":"stroke","symbolSize":1024,"symbolStrokeWidth":2,"rowPadding":0,"padding":3,"labelOffset":4,"strokeColor":"#000000","fillColor":"#ffffff","labelLimit":300}},
   "strokeDash":{"field":"s","type":"nominal","scale":{"domain":["BVMO","CSSC","DNV","DTU","DUT1","DUT2","EDF","GDG","IFE","MAR1","NREL1","NREL2","PRI","TUHH","UPC","W&UG","Exp. Repeat 1","Exp. Repeat 2"],"range":[[6,3,1.5,3],[1,0],[1,0],[1,0],[1,0],[1,0],[6,3,1.5,3],[1,0],[1,0],[1,0],[1,0],[1,0],[1,0],[6,3,1.5,3],[1,0],[1,0],[1,0],[1.5,1.5]]}},
   "strokeWidth":{"field":"s","type":"nominal","legend":null,"scale":{"type":"ordinal","domain":["BVMO","CSSC","DNV","DTU","DUT1","DUT2","EDF","GDG","IFE","MAR1","NREL1","NREL2","PRI","TUHH","UPC","W&UG","Exp. Repeat 1","Exp. Repeat 2"],"range":[1.9,1.9,1.9,1.9,1.9,1.9,1.9,1.9,1.9,1.9,1.9,1.9,1.9,1.9,1.9,1.9,3.2,2]}}
  }},
 {"transform":[{"filter":"datum.s === 'Exp. Repeat 1'"}],
  "mark":{"type":"line","clip":true,"strokeJoin":"round"},
  "encoding":{
   "color":{"field":"s","type":"nominal"},
   "strokeDash":{"field":"s","type":"nominal"},
   "strokeWidth":{"field":"s","type":"nominal","legend":null}
  }},
 {"data":{"values":[{"f":0.0299,"lab":"Platform Pitch"},{"f":0.0819,"lab":"Waves"},{"f":0.3943,"lab":"1st Tower Fore-Aft"}]},
  "mark":{"type":"rule","color":"#8c8c8c","strokeWidth":1.8,"strokeDash":[7,5]},
  "encoding":{"x":{"field":"f","type":"quantitative"},"y":null}},
 {"data":{"values":[{"f":0.0299,"lab":"Platform Pitch","t":6},{"f":0.0819,"lab":"Waves","t":6},{"f":0.3943,"lab":"1st Tower Fore-Aft","t":6}]},
  "mark":{"type":"text","angle":270,"align":"right","baseline":"bottom","dx":-8,"dy":-1,"fontSize":22,"color":"#000000","font":"Liberation Sans"},
  "encoding":{"x":{"field":"f","type":"quantitative"},"y":{"field":"t","type":"quantitative"},"text":{"field":"lab"}}},
 {"data":{"values":[{"f":0,"t":6,"lab":"×10"}]},
  "mark":{"type":"text","align":"left","baseline":"alphabetic","dx":2,"dy":-7,"fontSize":23,"color":"#262626","clip":false},
  "encoding":{"x":{"field":"f","type":"quantitative"},"y":{"field":"t","type":"quantitative"},"text":{"field":"lab"}}},
 {"data":{"values":[{"f":0,"t":6,"lab":"15"}]},
  "mark":{"type":"text","align":"left","baseline":"alphabetic","dx":52,"dy":-17,"fontSize":15,"color":"#262626","clip":false},
  "encoding":{"x":{"field":"f","type":"quantitative"},"y":{"field":"t","type":"quantitative"},"text":{"field":"lab"}}}
]
}
